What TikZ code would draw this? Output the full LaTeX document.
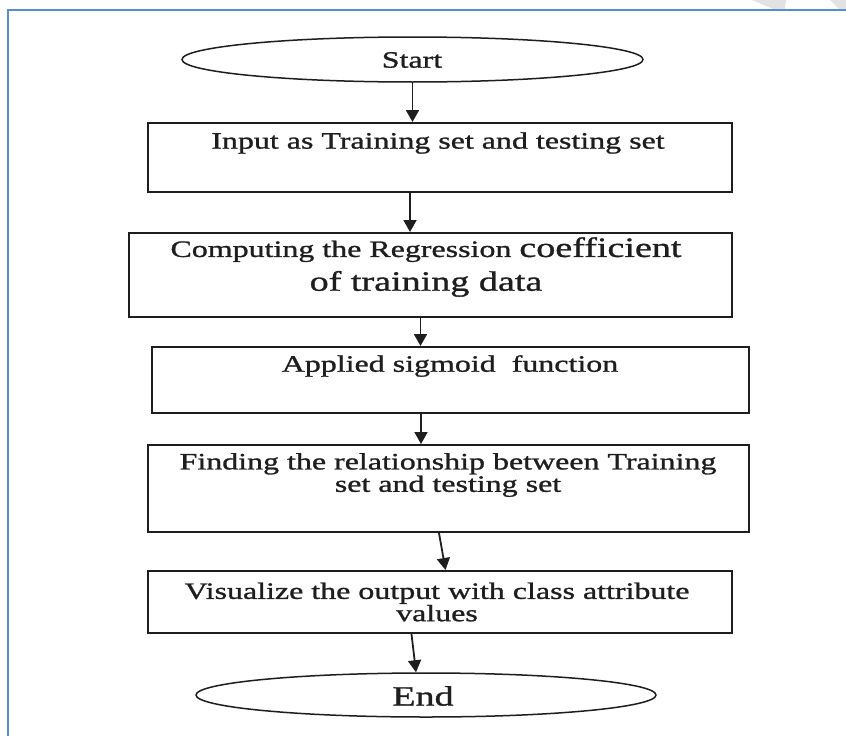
\documentclass[tikz,border=0pt]{standalone}
\usepackage{fontspec}
\usetikzlibrary{shapes.geometric,arrows.meta}
\newfontfamily\diag{Liberation Serif}[FakeStretch=1.36,FakeBold=1.1]
\newcommand\bigtxt{\fontsize{28}{29}\selectfont}
\definecolor{frameblue}{RGB}{84,141,212}
\definecolor{ink}{RGB}{30,30,30}
\definecolor{wm}{RGB}{226,226,226}
\begin{document}
\begin{tikzpicture}[x=1pt,y=-1pt,
  box/.style={draw=ink,line width=2pt,rectangle,inner sep=0pt},
  oval/.style={draw=ink,line width=1.5pt,ellipse,inner sep=0pt},
  txt/.style={align=center,inner sep=0pt,text=ink,font={\diag\fontsize{23.5}{21}\selectfont}},
  arr/.style={draw=ink,line width=1.8pt,-{Triangle[width=13pt,length=12pt]}}]
\fill[white] (0,0) rectangle (846,736);
\useasboundingbox (0,0) rectangle (846,736);
% watermark remnants
\fill[wm] (752,0) -- (786,0) -- (785,9) -- (773,9) -- cycle;
\fill[wm] (830,0) -- (846,0) -- (846,9) -- (839,9) -- cycle;
% frame
\draw[frameblue,line width=2pt] (8,736) -- (8,10) -- (846,10);
% shapes
\node[oval,minimum width=461pt,minimum height=45pt] (start) at (412.5,59.5) {};
\node[box,minimum width=584pt,minimum height=69pt] (b1) at (440,157.5) {};
\node[box,minimum width=603pt,minimum height=84pt] (b2) at (430.5,275) {};
\node[box,minimum width=597pt,minimum height=66pt] (b3) at (450.5,380) {};
\node[box,minimum width=601pt,minimum height=87pt] (b4) at (448.5,488.5) {};
\node[box,minimum width=584pt,minimum height=62pt] (b5) at (440,602) {};
\node[oval,minimum width=460pt,minimum height=44pt] (end) at (426,695) {};
% texts
\node[txt] (tstart) at (412,60) {Start};
\node[txt] (t1) at (438,143) {Input as Training set and testing set};
\node[txt] (t2) at (426,267) {Computing the Regression {\bigtxt coefficient}\\[8pt]{\bigtxt of training data}};
\node[txt] (t3) at (450,366) {Applied sigmoid\ \ function};
\node[txt] (t4) at (448,475) {Finding the relationship between Training\\set and testing set};
\node[txt] (t5) at (437,602) {Visualize the output with class attribute\\values};
\node[txt] (tend) at (423,696) {\bigtxt End};
% connectors
\coordinate (a1) at ([xshift=-30pt]b1.south);
\coordinate (a2) at ([xshift=-10pt]b2.south);
\coordinate (a3) at ([xshift=-29.5pt]b3.south);
\draw[arr] (start.south) -- (start.south |- b1.north);
\draw[arr] (a1) -- (a1 |- b2.north);
\draw[arr] (a2) -- (a2 |- b3.north);
\draw[arr] (a3) -- (a3 |- b4.north);
\draw[arr] ([xshift=-9.5pt]b4.south) -- ([xshift=5.5pt]b5.north);
\draw[arr] ([xshift=-28.5pt]b5.south) -- ([xshift=-10pt]end.north);
\end{tikzpicture}
\end{document}
